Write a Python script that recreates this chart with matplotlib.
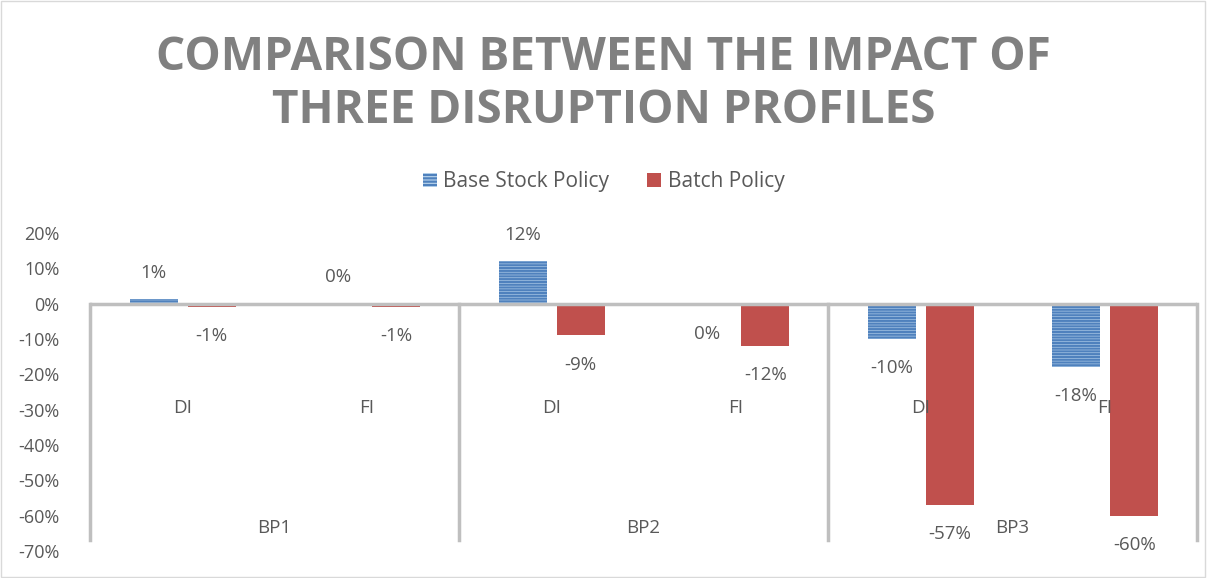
import matplotlib.pyplot as plt
from matplotlib.patches import Patch, Rectangle
import numpy as np

# chart data
groups = ["BP1", "BP2", "BP3"]
profiles = ["DI", "FI", "DI", "FI", "DI", "FI"]
base_stock = [0.012, 0.002, 0.12, -0.002, -0.10, -0.18]
batch = [-0.01, -0.01, -0.09, -0.12, -0.57, -0.60]
y_ticks = [0.2, 0.1, 0.0, -0.1, -0.2, -0.3, -0.4, -0.5, -0.6, -0.7]

txt = "#595959"
grey_line = "#BFBFBF"
plt.rcParams['font.family'] = ['Open Sans', 'DejaVu Sans']
plt.rcParams['hatch.linewidth'] = 1.6

W, H = 1207, 578
fig = plt.figure(figsize=(W / 100, H / 100), dpi=100)
ax = fig.add_axes([90 / W, (H - 551) / H, (1197 - 90) / W, (551 - 233) / H])

x = np.arange(len(profiles))
bw = 0.26
b1 = ax.bar(x - 0.155, base_stock, bw, color="#BDD7EE", edgecolor="#4F81BD",
            hatch="------", linewidth=0)
b2 = ax.bar(x + 0.16, batch, bw, color="#C0504D", linewidth=0)

for bars, vals in [(b1, base_stock), (b2, batch)]:
    for rect, v in zip(bars, vals):
        cx = rect.get_x() + rect.get_width() / 2
        off = 19 if v >= 0 else -21
        ax.annotate(f"{round(v * 100):.0f}%", (cx, v), xytext=(0, off),
                    textcoords="offset points", ha="center", va="center",
                    fontsize=13.5, color=txt)

ax.set_xlim(-0.5, len(profiles) - 0.5)
ax.set_ylim(-0.7, 0.2)
ax.set_yticks(y_ticks)
ax.set_yticklabels([f"{round(t * 100)}%" for t in y_ticks])
ax.tick_params(axis="y", length=0, labelsize=13, labelcolor=txt, pad=22)
ax.set_xticks([])
for s in ax.spines.values():
    s.set_visible(False)

# category axis crossing at zero with group separators
ax.axhline(0, color=grey_line, linewidth=2.5, zorder=3)
for sep in [-0.5, 1.5, 3.5, 5.5]:
    ax.plot([sep, sep], [0, -0.67], color=grey_line, linewidth=2.5, zorder=3,
            clip_on=False)
for xi, lab in zip(x, profiles):
    ax.text(xi, -0.295, lab, ha="center", va="center", fontsize=13.5, color=txt)
for gi, g in enumerate(groups):
    ax.text(2 * gi + 0.5, -0.635, g, ha="center", va="center", fontsize=13.5,
            color=txt)

fig.text(0.5, 1 - 58 / H, "COMPARISON BETWEEN THE IMPACT OF", ha="center",
         va="center", fontsize=33, fontweight="bold", color="#808080")
fig.text(0.5, 1 - 111 / H, "THREE DISRUPTION PROFILES", ha="center",
         va="center", fontsize=33, fontweight="bold", color="#808080")

handles = [Patch(facecolor="#BDD7EE", edgecolor="#4F81BD", hatch="-----",
                 linewidth=0),
           Patch(facecolor="#C0504D", linewidth=0)]
fig.legend(handles, ["Base Stock Policy", "Batch Policy"], loc="center",
           bbox_to_anchor=(0.5, 1 - 182 / H), ncol=2, frameon=False,
           fontsize=15, labelcolor=txt, handlelength=0.7, handleheight=0.7,
           handletextpad=0.3, columnspacing=1.8)

fig.patches.append(Rectangle((0.001, 0.002), 0.997, 0.996,
                             transform=fig.transFigure, fill=False,
                             edgecolor="#D9D9D9", linewidth=1))

fig.savefig("out.png", dpi=100)
